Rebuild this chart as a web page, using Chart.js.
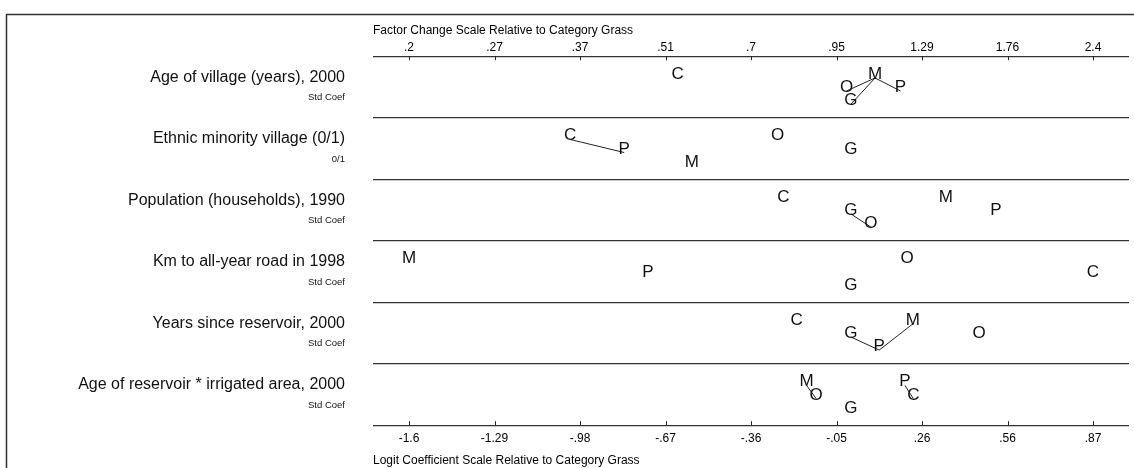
<!DOCTYPE html>
<html>
<head>
<meta charset="utf-8">
<script src="https://cdn.jsdelivr.net/npm/chart.js@4.4.0/dist/chart.umd.min.js"></script>
<style>
  html, body { margin: 0; padding: 0; background: #fff; }
  canvas { display: block; }
</style>
</head>
<body>
<canvas id="chart" width="1134" height="468"></canvas>
<script>
// --- rows: independent variables ---
const variables = [
  "Age of village (years), 2000",
  "Ethnic minority village (0/1)",
  "Population (households), 1990",
  "Km to all-year road in 1998",
  "Years since reservoir, 2000",
  "Age of reservoir * irrigated area, 2000"
];
const unitLabels = ["Std Coef", "0/1", "Std Coef", "Std Coef", "Std Coef", "Std Coef"];

// --- outcome categories (plotted as letters), Grass = base ---
const categories = ["C", "M", "O", "P", "G"];

// logit coefficients relative to Grass, one per variable
const coefC = [-0.626, -1.014, -0.244, 0.874, -0.196, 0.225];
const coefM = [0.087, -0.575, 0.343, -1.596, 0.223, -0.160];
const coefO = [-0.016, -0.265, 0.072, 0.203, 0.463, -0.126];
const coefP = [0.179, -0.819, 0.523, -0.733, 0.102, 0.195];
const coefG = [0, 0, 0, 0, 0, 0];

// stacking level of each letter inside its row (0 top, 1 middle, 2 bottom)
const levelC = [0, 0, 0, 1, 0, 1];
const levelM = [0, 2, 0, 0, 0, 0];
const levelO = [1, 0, 2, 0, 1, 1];
const levelP = [1, 1, 1, 1, 2, 0];
const levelG = [2, 1, 1, 2, 1, 2];

// pairs joined by a line: [row, letter, letter]
const links = [
  [0, "O", "M"], [0, "G", "M"], [0, "M", "P"],
  [1, "C", "P"],
  [2, "G", "O"],
  [4, "G", "P"], [4, "P", "M"],
  [5, "M", "O"], [5, "P", "C"]
];

// axis range and tick labels
const logitMin = -1.596, logitMax = 0.874;
const logitTickLabels  = ["-1.6", "-1.29", "-.98", "-.67", "-.36", "-.05", ".26", ".56", ".87"];
const factorTickLabels = [".2", ".27", ".37", ".51", ".7", ".95", "1.29", "1.76", "2.4"];

// ---------------------------------------------
const FONT = "'Liberation Sans', Arial, Helvetica, sans-serif";
Chart.defaults.font.family = FONT;
Chart.defaults.color = "#000";

const coefOf  = { C: coefC, M: coefM, O: coefO, P: coefP, G: coefG };
const levelOf = { C: levelC, M: levelM, O: levelO, P: levelP, G: levelG };
const levelY  = [0.354, 0.566, 0.779];   // baseline of each level, in row units
const rangePad = 0.13;
const tickStep = (logitMax - logitMin) / (logitTickLabels.length - 1);
const tickValues = logitTickLabels.map((_, i) => logitMin + i * tickStep);

const pointFor = (row, cat) => ({ x: coefOf[cat][row], y: row + levelY[levelOf[cat][row]] });

// line segments first, letters on top
const datasets = links.map(([row, a, b]) => ({
  type: "line",
  data: [pointFor(row, a), pointFor(row, b)],
  borderColor: "#222",
  borderWidth: 1,
  pointRadius: 0,
  fill: false
}));
categories.forEach(cat => {
  datasets.push({
    letter: cat,
    data: variables.map((_, row) => pointFor(row, cat)),
    pointRadius: 0,
    showLine: false
  });
});

const letterPlugin = {
  id: "letters",
  beforeDraw(chart) {
    // outer graph frame (cropped at right/bottom)
    const ctx = chart.ctx;
    ctx.save();
    ctx.strokeStyle = "#333";
    ctx.lineWidth = 1.5;
    ctx.beginPath();
    ctx.moveTo(6.5, chart.height);
    ctx.lineTo(6.5, 14.5);
    ctx.lineTo(chart.width, 14.5);
    ctx.stroke();
    ctx.restore();
  },
  afterDatasetsDraw(chart) {
    const ctx = chart.ctx;
    ctx.save();
    ctx.font = "17px " + FONT;
    ctx.fillStyle = "#111";
    ctx.textAlign = "center";
    ctx.textBaseline = "alphabetic";
    chart.data.datasets.forEach((ds, i) => {
      if (!ds.letter) return;
      chart.getDatasetMeta(i).data.forEach(pt => ctx.fillText(ds.letter, pt.x, pt.y + 1));
    });
    ctx.restore();
  },
  afterDraw(chart) {
    const ctx = chart.ctx;
    const { x, y } = chart.scales;
    const area = chart.chartArea;
    ctx.save();
    // inner tick marks on both axes
    ctx.strokeStyle = "#222";
    ctx.lineWidth = 1;
    x.ticks.forEach(t => {
      const px = Math.round(x.getPixelForValue(t.value)) + 0.5;
      ctx.beginPath();
      ctx.moveTo(px, area.top); ctx.lineTo(px, area.top + 4);
      ctx.moveTo(px, area.bottom); ctx.lineTo(px, area.bottom - 4);
      ctx.stroke();
    });
    // row labels
    ctx.fillStyle = "#111";
    ctx.textAlign = "right";
    ctx.textBaseline = "middle";
    variables.forEach((name, row) => {
      const top = y.getPixelForValue(row);
      ctx.font = "16px " + FONT;
      ctx.fillText(name, 345, top + 21);
      ctx.font = "9.5px " + FONT;
      ctx.fillText(unitLabels[row], 345, top + 41.5);
    });
    ctx.restore();
  }
};

new Chart(document.getElementById("chart"), {
  type: "scatter",
  data: { datasets },
  options: {
    responsive: false,
    animation: false,
    layout: { padding: { left: 373, right: 5, top: 23, bottom: 0 } },
    plugins: { legend: { display: false }, tooltip: { enabled: false } },
    scales: {
      x: {
        type: "linear", axis: "x", position: "bottom", bounds: "data",
        min: logitMin - rangePad, max: logitMax + rangePad,
        afterBuildTicks: s => { s.ticks = tickValues.map(v => ({ value: v })); },
        ticks: { callback: (v, i) => logitTickLabels[i], autoSkip: false, maxRotation: 0,
                 padding: 6, font: { size: 12 }, color: "#000" },
        grid: { display: false, drawTicks: false },
        border: { display: false },
        title: { display: true, align: "start", text: "Logit Coefficient Scale Relative to Category Grass",
                 font: { size: 12 }, color: "#000", padding: { top: 2, bottom: 0 } }
      },
      x2: {
        type: "linear", axis: "x", position: "top", bounds: "data",
        min: logitMin - rangePad, max: logitMax + rangePad,
        afterBuildTicks: s => { s.ticks = tickValues.map(v => ({ value: v })); },
        ticks: { callback: (v, i) => factorTickLabels[i], autoSkip: false, maxRotation: 0,
                 padding: 1, font: { size: 12 }, color: "#000" },
        grid: { display: false, drawTicks: false },
        border: { display: false },
        title: { display: true, align: "start", text: "Factor Change Scale Relative to Category Grass",
                 font: { size: 12 }, color: "#000", padding: { top: 0, bottom: 2.4 } }
      },
      y: {
        type: "linear", min: 0, max: variables.length, reverse: true,
        afterBuildTicks: s => { s.ticks = variables.concat([""]).map((_, i) => ({ value: i })); },
        ticks: { display: false },
        grid: { color: "#333", lineWidth: 1.2, drawTicks: false },
        border: { display: false }
      }
    }
  },
  plugins: [letterPlugin]
});
</script>
</body>
</html>
